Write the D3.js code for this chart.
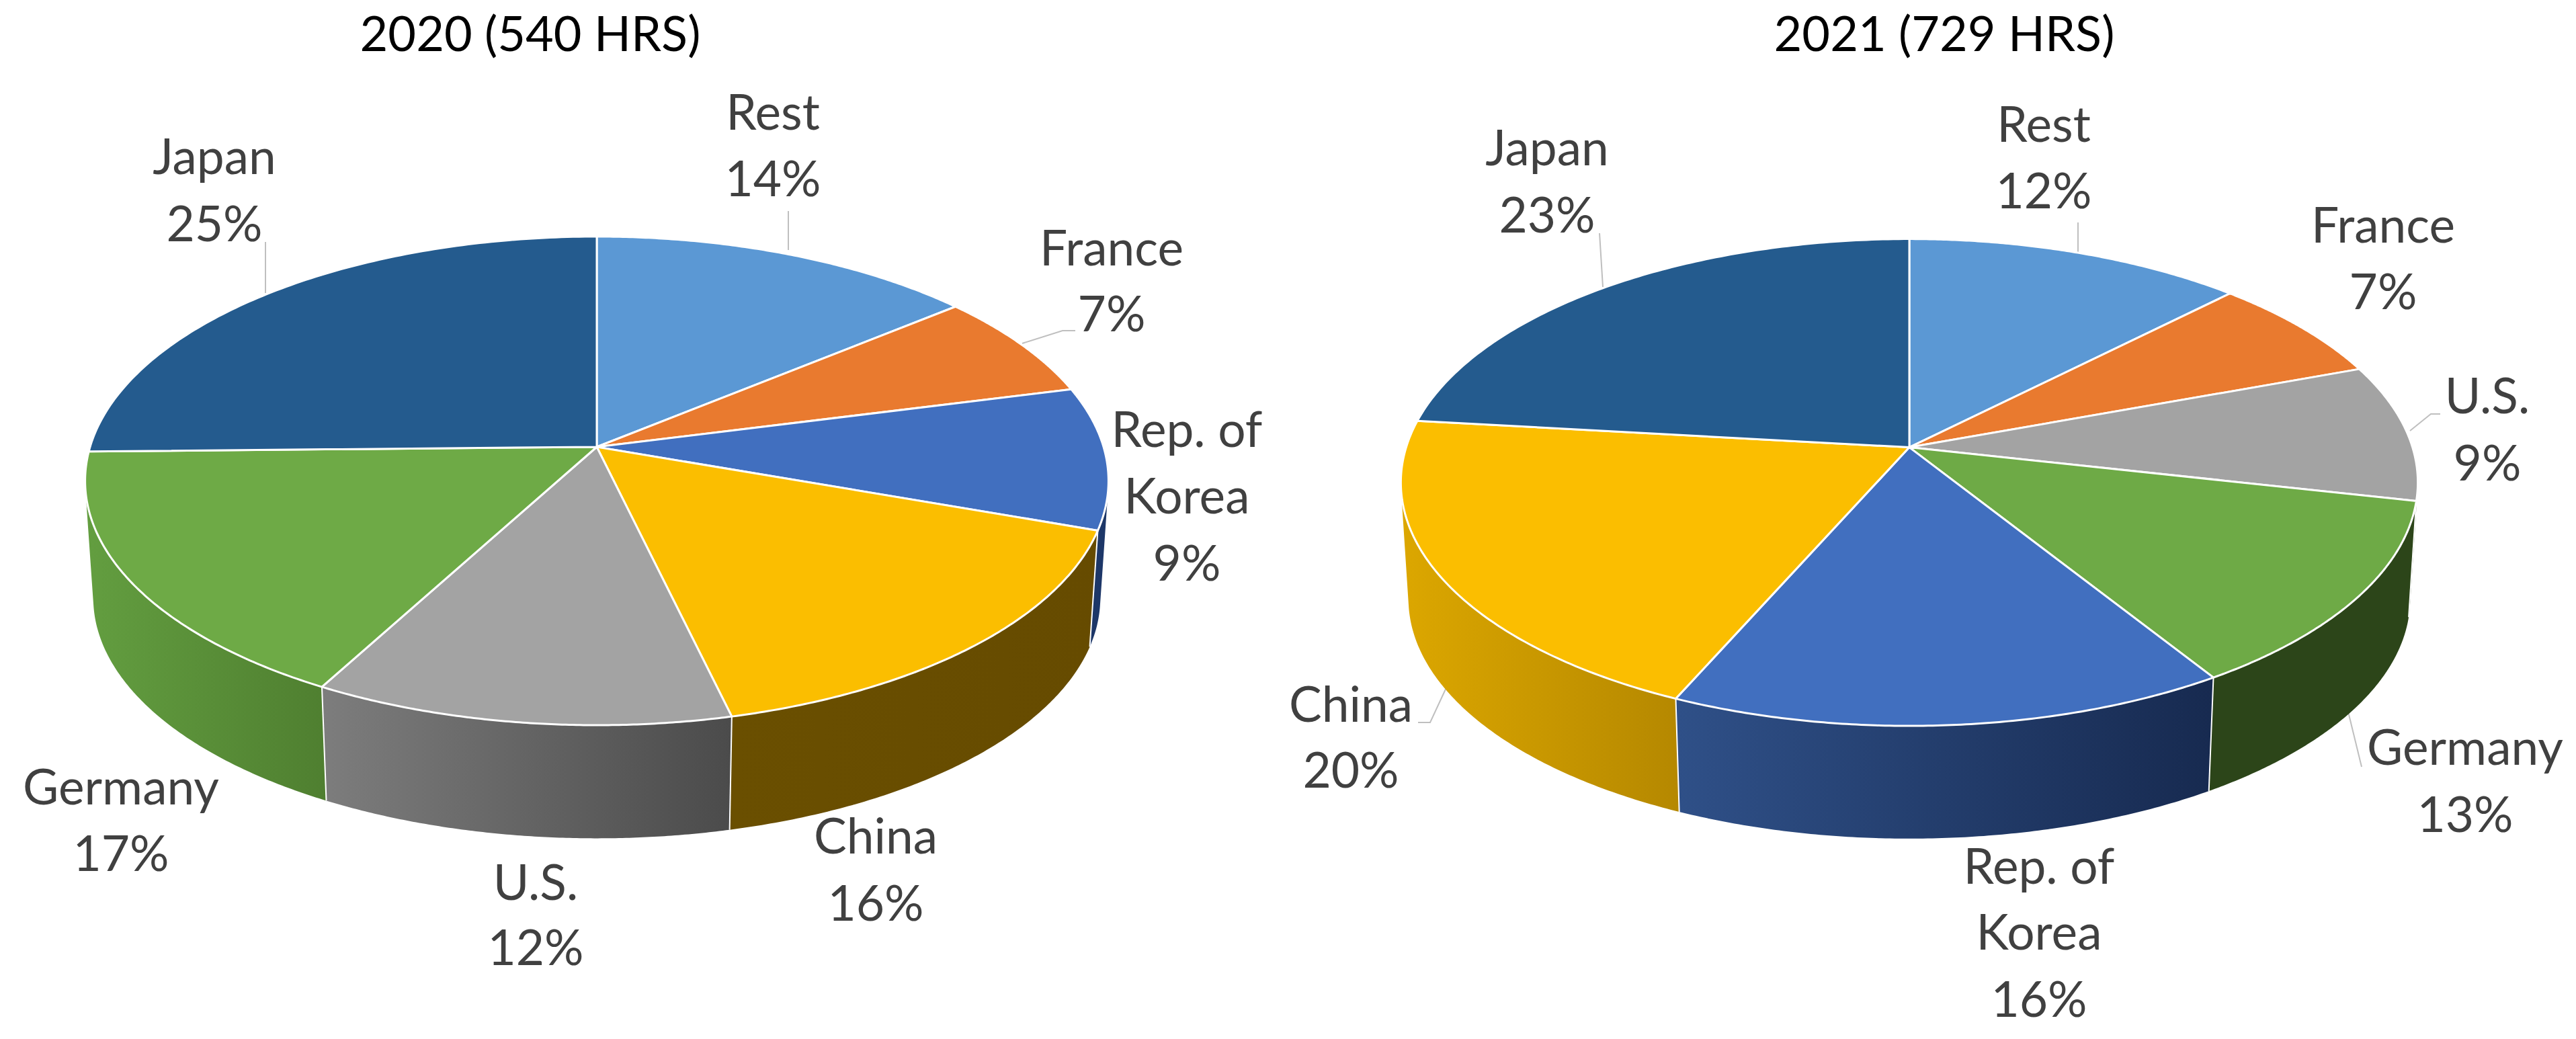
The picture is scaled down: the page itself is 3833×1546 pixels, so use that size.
<!DOCTYPE html>
<html>
<head>
<meta charset="utf-8">
<script src="https://cdn.jsdelivr.net/npm/d3@7"></script>
<style>
  html, body { margin: 0; background: #fff; }
  svg { display: block; }
  text { font-family: Lato, "Open Sans", sans-serif; }
</style>
</head>
<body>
<svg></svg>
<script>
// values, the printed percentages are these rounded
var categories2020 = ['Rest', 'France', 'Rep. of Korea', 'China', 'U.S.', 'Germany', 'Japan'];
var values2020 = [14, 7, 9.4, 15.9, 11.6, 16.8, 25.3];
var categories2021 = ['Rest', 'France', 'U.S.', 'Germany', 'Rep. of Korea', 'China', 'Japan'];
var values2021 = [12.4, 7, 9.1, 12.6, 15.5, 20.2, 23.2];
var titles = ['2020 (540 HRS)', '2021 (729 HRS)'];

var width = 3833;
var height = 1546;

var topColor = {
  'Rest': '#5b98d4', 'France': '#e97a2f', 'Rep. of Korea': '#416fbf', 'China': '#fbbe00',
  'U.S.': '#a3a3a3', 'Germany': '#6eaa46', 'Japan': '#245b8e'
};

// side wall gradients differ per chart, left to right
var wallColor2020 = {
  'Rep. of Korea': ['#1d3768', '#1d3768'], 'China': ['#6a4f00', '#664b00'],
  'U.S.': ['#7d7d7d', '#4b4b4b'], 'Germany': ['#639e40', '#4f7f30'],
  'Rest': ['#333', '#333'], 'France': ['#333', '#333'], 'Japan': ['#333', '#333']
};
var wallColor2021 = {
  'U.S.': ['#2c4519', '#2c4519'], 'Germany': ['#2c4519', '#2c4519'],
  'Rep. of Korea': ['#2f5088', '#172a50'], 'China': ['#dca700', '#b58800'],
  'Rest': ['#333', '#333'], 'France': ['#333', '#333'], 'Japan': ['#333', '#333']
};

var layout2020 = { cx: 888, cy: 665, R: 754, H: 356.5, k: 0.1389, shrink: 0.984, depth: 175 };
var layout2021 = { cx: 2841, cy: 665.6, R: 748.7, H: 354.7, k: 0.1442, shrink: 0.985, depth: 174 };

// [x, baseline of each line]
var labelPos2020 = {
  'Japan': [319, 259, 358.5], 'Rest': [1150, 193, 292], 'France': [1654, 395, 493],
  'Rep. of Korea': [1766, 664.5, 764, 864], 'China': [1303, 1270, 1370],
  'U.S.': [797, 1339, 1436], 'Germany': [180, 1197, 1296]
};
var labelPos2021 = {
  'Japan': [2302, 246, 346], 'Rest': [3041, 211, 310], 'France': [3546, 361, 460],
  'U.S.': [3701, 615, 715], 'Germany': [3668, 1138, 1238],
  'Rep. of Korea': [3034, 1315, 1412.5, 1513], 'China': [2010, 1074, 1172]
};
var leaders = [
  [[1173, 314], [1173, 372]],
  [[395, 360], [395, 436]],
  [[1521, 511], [1581, 492], [1600, 492]],
  [[3092, 331], [3092, 377]],
  [[2380, 347], [2385, 427]],
  [[3586, 641], [3617, 616], [3631, 616]],
  [[2154, 1019], [2128, 1075], [2110, 1075]],
  [[3493, 1055], [3514, 1141]]
];
var titlePos = [[789, 76], [2893, 76]];

var svg = d3.select('svg').attr('width', width).attr('height', height);
var defs = svg.append('defs');
var pie = d3.pie().sort(null).value(d => d.value).startAngle(0).endAngle(2 * Math.PI);
var line = d3.line();

function drawPie(id, categories, values, cfg, wallColor, labelPos) {
  var data = categories.map((c, i) => ({ name: c, value: values[i] }));
  var arcs = pie(data);
  var g = svg.append('g').attr('class', 'pie-' + id);

  // the disc seen in perspective, center of the pie is not center of the ellipse
  function project(a) {
    var u = Math.sin(a), v = -Math.cos(a);
    var s = 1 / (1 - cfg.k * v);
    return [cfg.cx + cfg.R * u * s, cfg.cy + cfg.H * v * s];
  }
  function projectBottom(a) {
    var p = project(a);
    return [cfg.cx + (p[0] - cfg.cx) * cfg.shrink, cfg.cy + (p[1] - cfg.cy) * cfg.shrink + cfg.depth];
  }
  // front facing where the wall edge points out of the rim
  function facing(a) {
    var p = project(a), q = project(a + 0.001), b = projectBottom(a);
    return (q[0] - p[0]) * (b[1] - p[1]) - (q[1] - p[1]) * (b[0] - p[0]);
  }
  var angles = d3.range(0, 2 * Math.PI, 0.002).filter(a => facing(a) < 0);
  var frontStart = d3.min(angles), frontEnd = d3.max(angles);

  function rim(a0, a1, fn) {
    return d3.range(0, 121).map(i => fn(a0 + (a1 - a0) * i / 120));
  }

  // walls first, the top covers whatever is behind it
  arcs.forEach((d, i) => {
    var a0 = Math.max(d.startAngle, frontStart), a1 = Math.min(d.endAngle, frontEnd);
    if (a1 <= a0) return;
    var topPts = rim(a0, a1, project);
    var botPts = rim(a0, a1, projectBottom);
    var xs = topPts.concat(botPts).map(p => p[0]);
    var gradId = 'wall-' + id + '-' + i;
    var grad = defs.append('linearGradient')
      .attr('id', gradId)
      .attr('gradientUnits', 'userSpaceOnUse')
      .attr('x1', d3.min(xs)).attr('x2', d3.max(xs))
      .attr('y1', 0).attr('y2', 0);
    grad.append('stop').attr('offset', 0).attr('stop-color', wallColor[d.data.name][0]);
    grad.append('stop').attr('offset', 1).attr('stop-color', wallColor[d.data.name][1]);

    // separators only, the outer edge of the wall stays clean
    g.append('path')
      .attr('d', line(topPts.concat(botPts.slice().reverse())) + 'Z')
      .attr('fill', 'url(#' + gradId + ')');
    if (d.startAngle > frontStart) {
      g.append('path')
        .attr('d', line([project(d.startAngle), projectBottom(d.startAngle)]))
        .attr('stroke', '#fff')
        .attr('stroke-width', 2);
    }
  });

  g.selectAll('path.top')
    .data(arcs)
    .enter()
    .append('path')
      .attr('class', 'top')
      .attr('d', d => line([[cfg.cx, cfg.cy]].concat(rim(d.startAngle, d.endAngle, project))) + 'Z')
      .attr('fill', d => topColor[d.data.name])
      .attr('stroke', '#fff')
      .attr('stroke-width', 3)
      .attr('stroke-linejoin', 'round');

  // labels, long name wraps in two lines
  arcs.forEach(d => {
    var pos = labelPos[d.data.name];
    var lines = d.data.name === 'Rep. of Korea' ? ['Rep. of', 'Korea'] : [d.data.name];
    lines.push(Math.round(d.data.value) + '%');
    lines.forEach((t, i) => {
      g.append('text')
        .attr('x', pos[0])
        .attr('y', pos[i + 1])
        .attr('text-anchor', 'middle')
        .attr('font-size', 73)
        .attr('fill', '#404040')
        .text(t);
    });
  });
}

svg.selectAll('path.leader')
  .data(leaders)
  .enter()
  .append('path')
    .attr('class', 'leader')
    .attr('d', d => line(d))
    .attr('fill', 'none')
    .attr('stroke', '#bfbfbf')
    .attr('stroke-width', 2);

drawPie('2020', categories2020, values2020, layout2020, wallColor2020, labelPos2020);
drawPie('2021', categories2021, values2021, layout2021, wallColor2021, labelPos2021);

svg.selectAll('text.title')
  .data(titles)
  .enter()
  .append('text')
    .attr('class', 'title')
    .attr('x', (d, i) => titlePos[i][0])
    .attr('y', (d, i) => titlePos[i][1])
    .attr('text-anchor', 'middle')
    .attr('font-size', 72)
    .attr('fill', '#000')
    .text(d => d);
</script>
</body>
</html>
